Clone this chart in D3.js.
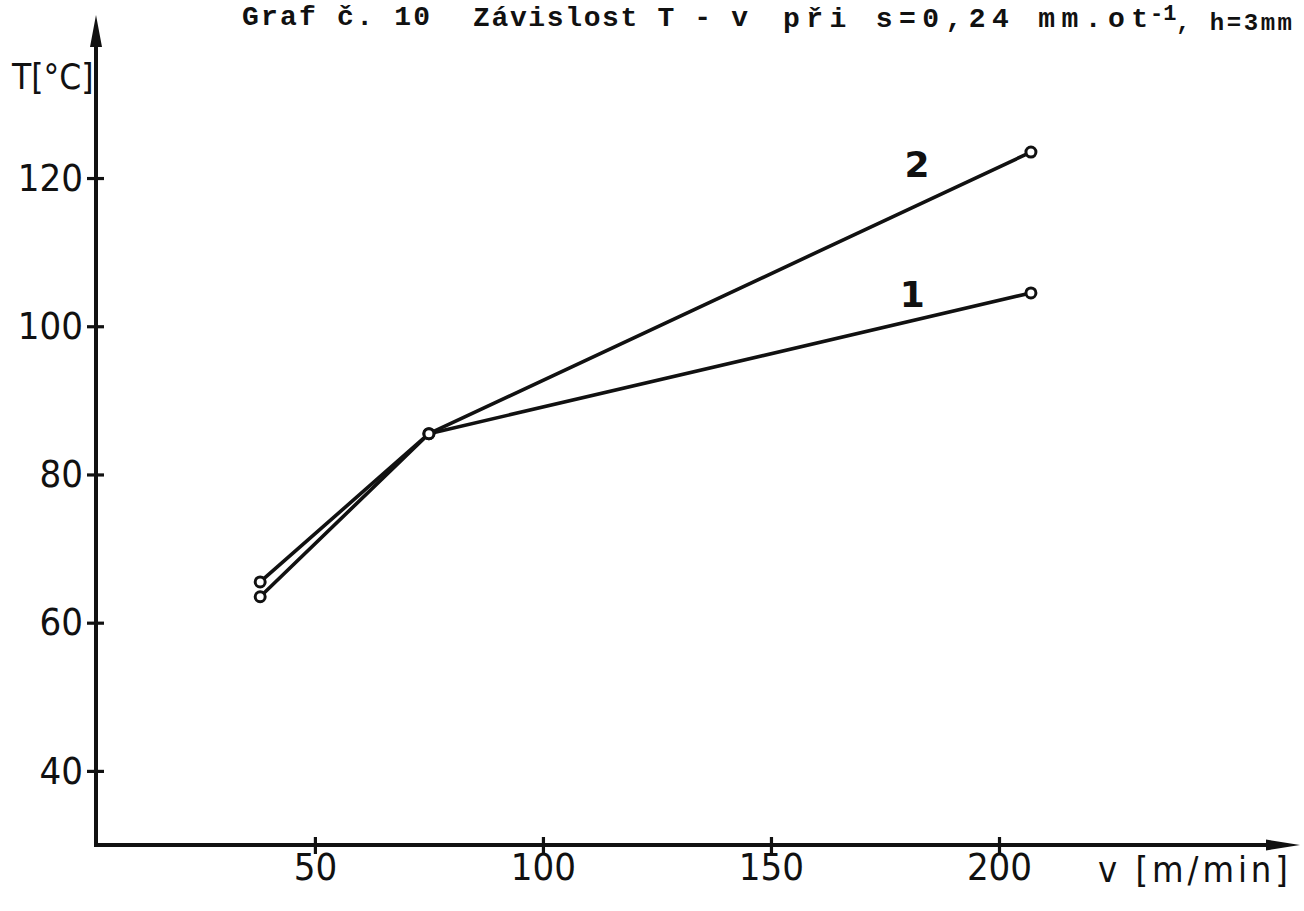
<!DOCTYPE html>
<html>
<head>
<meta charset="utf-8">
<script src="https://cdn.jsdelivr.net/npm/d3@7"></script>
<style>
  body { margin: 0; background: #fff; }
  svg { display: block; }
  .axis text { font-family: "DejaVu Sans Condensed", "DejaVu Sans", sans-serif; fill: #111; }
  .title { font-family: "Liberation Mono", "DejaVu Sans Mono", monospace; font-weight: bold; fill: #111; }
</style>
</head>
<body>
<div id="chart"></div>
<script>
// values
var speed = [38, 75, 207];            // v [m/min]
var temp1 = [63.5, 85.5, 104.5];      // curve 1, T [°C]
var temp2 = [65.5, 85.5, 123.5];      // curve 2, T [°C]
var xTicks = [50, 100, 150, 200];
var yTicks = [40, 60, 80, 100, 120];
var curveNames = ["1", "2"];
var labelPos = [[181, 102.6], [182, 120.1]];   // where the "1" / "2" marks sit, in data units

var W = 1304, H = 911;

var svg = d3.select("#chart").append("svg")
  .attr("width", W)
  .attr("height", H);

var x = d3.scaleLinear().domain([2, 266]).range([96, 1300]);
var y = d3.scaleLinear().domain([30, 142]).range([845, 15]);

var ink = "#111";

// x axis
var xAxis = d3.axisBottom(x)
  .tickValues(xTicks)
  .tickSize(8)
  .tickPadding(0)
  .tickFormat(d3.format("d"));

var gx = svg.append("g")
  .attr("class", "axis")
  .attr("transform", "translate(0," + y(30) + ")")
  .call(xAxis);
gx.select(".domain").remove();
gx.selectAll(".tick line")
  .attr("y1", -8)
  .attr("y2", 9)
  .style("stroke", ink)
  .style("stroke-width", 3.2);
gx.selectAll(".tick text")
  .style("font-size", "38px");

// y axis
var yAxis = d3.axisLeft(y)
  .tickValues(yTicks)
  .tickSize(8)
  .tickPadding(5)
  .tickFormat(d3.format("d"));

var gy = svg.append("g")
  .attr("class", "axis")
  .attr("transform", "translate(" + x(2) + ",0)")
  .call(yAxis);
gy.select(".domain").remove();
gy.selectAll(".tick line")
  .attr("x1", 8)
  .attr("x2", -9)
  .style("stroke", ink)
  .style("stroke-width", 3.2);
gy.selectAll(".tick text")
  .style("font-size", "38px");

// axis lines with arrow heads
svg.append("line")
  .attr("x1", x(2)).attr("y1", y(30))
  .attr("x2", x(2)).attr("y2", y(140))
  .style("stroke", ink)
  .style("stroke-width", 4);
svg.append("path")
  .attr("d", "M" + x(2) + "," + y(142) + "l-6,32l12,0z")
  .style("fill", ink);

svg.append("line")
  .attr("x1", x(2) - 2).attr("y1", y(30))
  .attr("x2", x(262)).attr("y2", y(30))
  .style("stroke", ink)
  .style("stroke-width", 4);
svg.append("path")
  .attr("d", "M" + x(266) + "," + y(30) + "l-34,-5.5l0,11z")
  .style("fill", ink);

// axis captions
svg.append("text")
  .attr("x", 12)
  .attr("y", 89)
  .style("font-family", "'DejaVu Sans Condensed', 'DejaVu Sans', sans-serif")
  .style("font-size", "35px")
  .style("fill", ink)
  .text("T[°C]");

svg.append("text")
  .attr("x", 1098)
  .attr("y", 882)
  .attr("textLength", 190)
  .attr("lengthAdjust", "spacing")
  .style("font-family", "'DejaVu Sans Condensed', 'DejaVu Sans', sans-serif")
  .style("font-size", "36px")
  .style("fill", ink)
  .text("v [m/min]");

// title, typewritten
var title = svg.append("text")
  .attr("class", "title")
  .style("font-size", "28px");
title.append("tspan").attr("x", 242).attr("y", 25)
  .attr("textLength", 188).attr("lengthAdjust", "spacing")
  .text("Graf č. 10");
title.append("tspan").attr("x", 473).attr("y", 26)
  .attr("textLength", 275).attr("lengthAdjust", "spacing")
  .text("Závislost T - v");
title.append("tspan").attr("x", 783).attr("y", 27)
  .attr("textLength", 365).attr("lengthAdjust", "spacing")
  .text("při s=0,24 mm.ot");
title.append("tspan").attr("x", 1150).attr("y", 20)
  .style("font-size", "22px")
  .text("-1");
title.append("tspan").attr("x", 1176).attr("y", 30)
  .style("font-size", "24px")
  .attr("textLength", 116).attr("lengthAdjust", "spacing")
  .text(", h=3mm");

// curves
var series = [temp1, temp2];
var line = d3.line()
  .x(function(d, i) { return x(speed[i]); })
  .y(function(d) { return y(d); });

svg.selectAll(".curve")
  .data(series)
  .enter().append("path")
  .attr("class", "curve")
  .attr("d", line)
  .style("fill", "none")
  .style("stroke", ink)
  .style("stroke-width", 3.6)
  .style("stroke-linejoin", "round");

series.forEach(function(s) {
  svg.selectAll(null)
    .data(s)
    .enter().append("circle")
    .attr("cx", function(d, i) { return x(speed[i]); })
    .attr("cy", function(d) { return y(d); })
    .attr("r", 5)
    .style("fill", "#fff")
    .style("stroke", ink)
    .style("stroke-width", 3);
});

svg.selectAll(".curve-label")
  .data(curveNames)
  .enter().append("text")
  .attr("class", "curve-label")
  .attr("x", function(d, i) { return x(labelPos[i][0]); })
  .attr("y", function(d, i) { return y(labelPos[i][1]); })
  .attr("text-anchor", "middle")
  .style("font-family", "'DejaVu Sans', sans-serif")
  .style("font-weight", "600")
  .style("font-size", "36px")
  .style("fill", ink)
  .text(function(d) { return d; });
</script>
</body>
</html>
